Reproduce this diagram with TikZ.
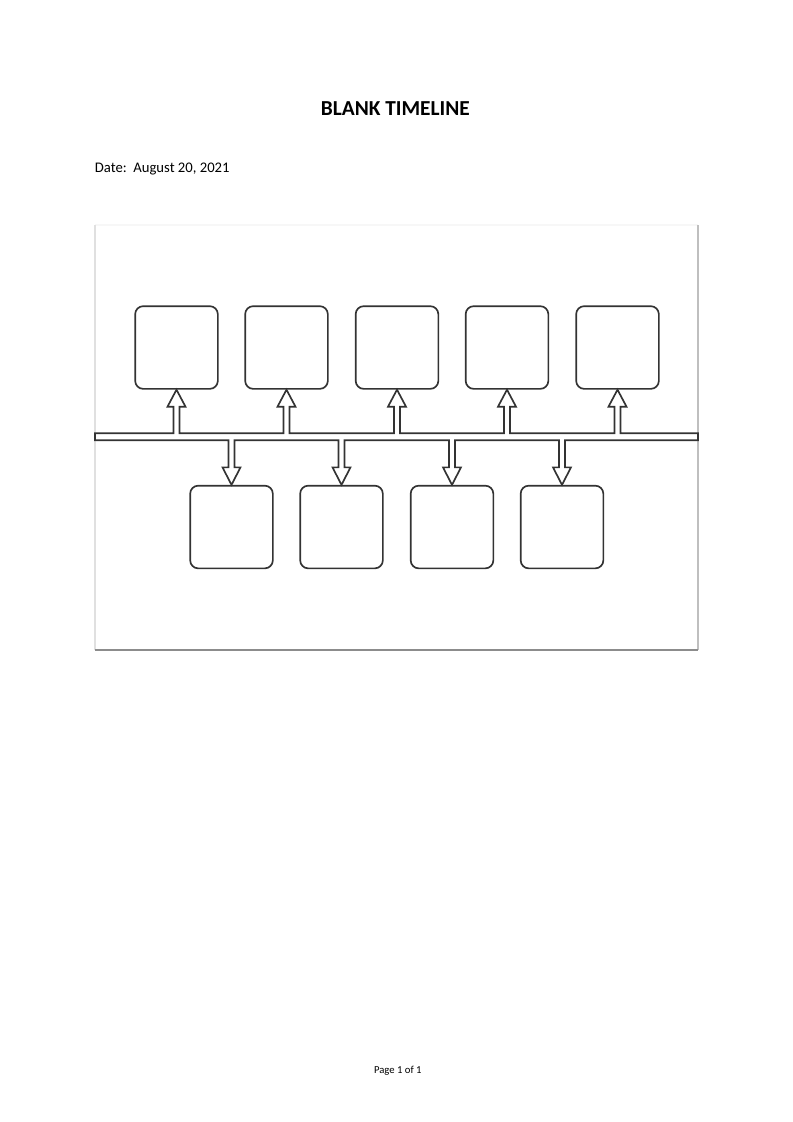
\documentclass[tikz,border=0pt]{standalone}
\usepackage{fontspec}
\setmainfont{Carlito}
\usetikzlibrary{calc}

\begin{document}
\begin{tikzpicture}[x=0.75pt, y=-0.75pt,
BoxStyle/.style={draw=black!80, line width=1.25pt, rounded corners=6pt,
                minimum width=62pt, minimum height=62pt, inner sep=0pt},
BarStyle/.style={draw=black!80, line width=1.25pt, fill=white},
FrameStyle/.style={line width=0.8pt},]
\useasboundingbox (0,0) rectangle (793,1122);
\node [anchor=base, font=\bfseries\fontsize{16}{19}\selectfont] (title) at (395.3,115) {BLANK TIMELINE};
\node [anchor=base west, inner sep=0pt, font=\fontsize{11}{13}\selectfont] (date) at (94.6,172) {Date:\ \ August 20, 2021};
\node [anchor=base, font=\fontsize{8}{10}\selectfont] (page) at (397.8,1073.3) {Page 1 of 1};
% frame
\draw [FrameStyle, black!3] (95,225) -- (698,225);
\draw [FrameStyle, black!12] (95,225) -- (95,650);
\draw [FrameStyle, black!25] (698,225) -- (698,650);
\draw [FrameStyle, black!45] (95,650) -- (698,650);
% boxes
\foreach \i/\x in {1/176.5,2/286.5,3/397,4/507,5/617.5}
  \node [BoxStyle] (u\i) at (\x,347.5) {};
\foreach \i/\x in {1/231.5,2/341.5,3/452,4/562}
  \node [BoxStyle] (d\i) at (\x,527) {};
% timeline bar with arrows
\coordinate (barTL) at (95,433.3);
\coordinate (barBR) at (698,440.3);
\draw [BarStyle] (barTL) -- (barTL |- barBR)
  foreach \i in {1,...,4} {
    -- ($(d\i.north |- barBR)+(-3,0)$) -- ($(d\i.north)+(-3,-17.5)$)
    -- ($(d\i.north)+(-9,-17.5)$) -- (d\i.north) -- ($(d\i.north)+(9,-17.5)$)
    -- ($(d\i.north)+(3,-17.5)$) -- ($(d\i.north |- barBR)+(3,0)$)
  }
  -- (barBR) -- (barBR |- barTL)
  foreach \i in {5,...,1} {
    -- ($(u\i.south |- barTL)+(3,0)$) -- ($(u\i.south)+(3,17)$)
    -- ($(u\i.south)+(9,17)$) -- (u\i.south) -- ($(u\i.south)+(-9,17)$)
    -- ($(u\i.south)+(-3,17)$) -- ($(u\i.south |- barTL)+(-3,0)$)
  }
  -- cycle;
\end{tikzpicture}
\end{document}
